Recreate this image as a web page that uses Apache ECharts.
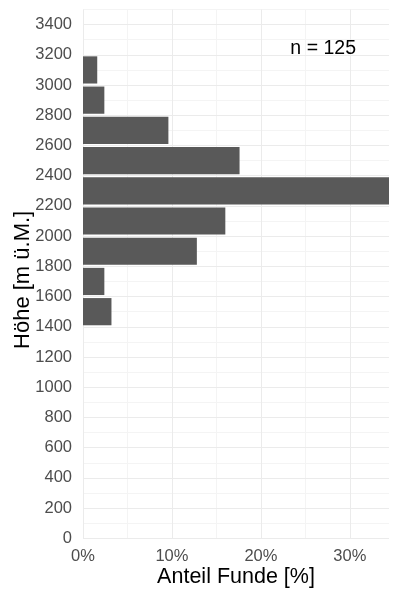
<!DOCTYPE html>
<html>
<head>
<meta charset="utf-8">
<script src="https://cdn.jsdelivr.net/npm/echarts@6/dist/echarts.min.js"></script>
<style>html,body{margin:0;padding:0;background:#fff}#c{width:400px;height:600px}</style>
</head>
<body>
<div id="c"></div>
<script>
// Data
const binStarts = [1400, 1600, 1800, 2000, 2200, 2400, 2600, 2800, 3000];
const counts = [4, 3, 16, 20, 43, 22, 12, 3, 2];
const nTotal = 125;
const annotationText = 'n = 125';
const annotationPos = [0.27, 3240];
const xTitle = 'Anteil Funde [%]';
const yTitle = 'Höhe [m ü.M.]';

const binWidth = 200;
const barData = binStarts.map((s, i) => [counts[i] / nTotal, s]);

const chart = echarts.init(document.getElementById('c'), null, {renderer: 'canvas'});
const font = 'Liberation Sans, Arial, sans-serif';
const labelColor = '#4D4D4D';
const majorColor = '#EBEBEB';
const minorColor = '#F4F4F4';

const option = {
  backgroundColor: '#ffffff',
  animation: false,
  grid: {left: 83, right: 11, top: 9.5, bottom: 61.7, containLabel: false, outerBoundsMode: 'none'},
  xAxis: [
    {
      type: 'value', min: 0, max: 0.344, interval: 0.1,
      axisLine: {show: false}, axisTick: {show: false},
      axisLabel: {color: labelColor, fontSize: 16.5, fontFamily: font, margin: 10, showMaxLabel: false,
        formatter: v => Math.round(v * 100) + '%'},
      splitLine: {show: true, showMaxLine: false, lineStyle: {color: majorColor, width: 1}},
      name: xTitle, nameLocation: 'middle', nameGap: 28, nameMoveOverlap: false,
      nameTextStyle: {color: '#000', fontSize: 21.5, fontFamily: font},
      z: 2
    },
    {
      type: 'value', min: 0, max: 0.344, interval: 0.05, position: 'bottom',
      axisLine: {show: false}, axisTick: {show: false}, axisLabel: {show: false},
      splitLine: {show: true, showMaxLine: false, lineStyle: {color: minorColor, width: 1}},
      z: 1
    }
  ],
  yAxis: [
    {
      type: 'value', min: 0, max: 3500, interval: 200,
      axisLine: {show: false}, axisTick: {show: false},
      axisLabel: {color: labelColor, fontSize: 16.5, fontFamily: font, margin: 11, showMaxLabel: false,
        formatter: v => String(v)},
      splitLine: {show: true, showMaxLine: false, lineStyle: {color: majorColor, width: 1}},
      name: yTitle, nameLocation: 'middle', nameGap: 49, nameRotate: 90, nameMoveOverlap: false,
      nameTextStyle: {color: '#000', fontSize: 22, fontFamily: font, padding: [0, 12, 0, 0]},
      z: 2
    },
    {
      type: 'value', min: 0, max: 3500, interval: 100, position: 'left', offset: 0,
      axisLine: {show: false}, axisTick: {show: false}, axisLabel: {show: false},
      splitLine: {show: true, lineStyle: {color: minorColor, width: 1}},
      z: 1
    }
  ],
  series: [
    {
      type: 'custom',
      xAxisIndex: 0, yAxisIndex: 0,
      data: barData,
      renderItem: function (params, api) {
        const v = api.value(0), s = api.value(1);
        const pad = binWidth * 0.05;
        const p0 = api.coord([0, s + binWidth - pad]);
        const p1 = api.coord([v, s + pad]);
        return {
          type: 'rect',
          shape: {x: p0[0], y: p0[1], width: p1[0] - p0[0], height: p1[1] - p0[1]},
          style: {fill: '#595959'}
        };
      },
      z: 3
    },
    {
      type: 'custom',
      xAxisIndex: 0, yAxisIndex: 0,
      data: [annotationPos],
      renderItem: function (params, api) {
        const p = api.coord([api.value(0), api.value(1)]);
        return {
          type: 'text',
          x: p[0], y: p[1],
          style: {text: annotationText, fill: '#000', fontSize: 19.5, fontFamily: font,
            align: 'center', verticalAlign: 'middle'}
        };
      },
      z: 4
    }
  ]
};
chart.setOption(option);
</script>
</body>
</html>
